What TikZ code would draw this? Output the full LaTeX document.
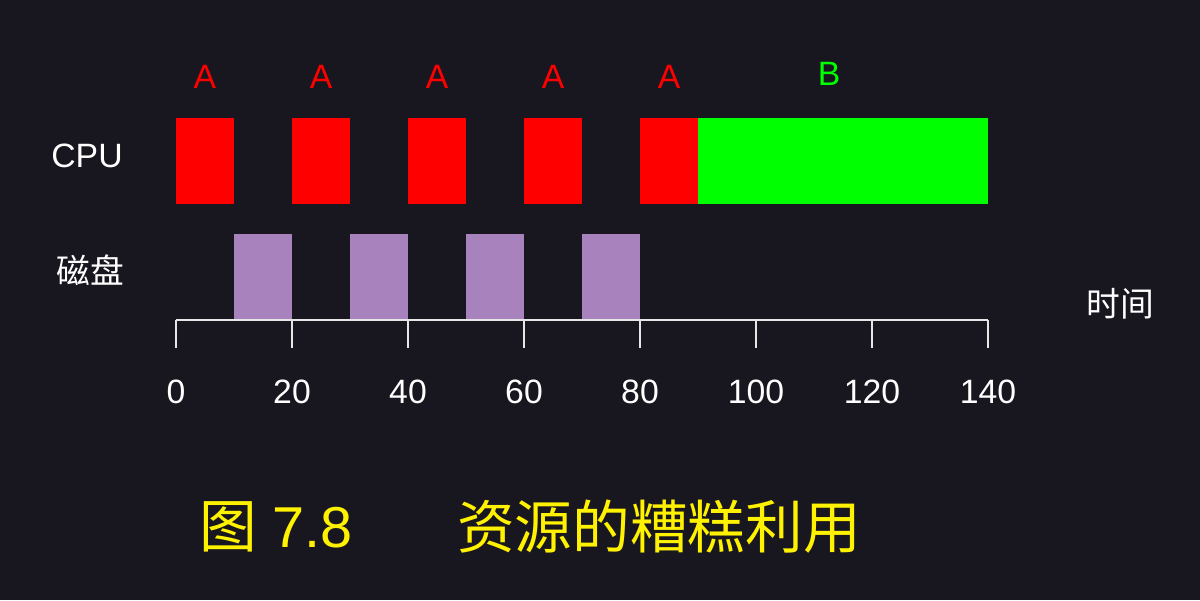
\documentclass[tikz,border=0pt]{standalone}
\usepackage{fontspec}
\setmainfont{Liberation Sans}
\newfontfamily\cjk{Noto Sans CJK SC}
\definecolor{bgcol}{HTML}{18161F}
\definecolor{diskcol}{HTML}{A882BC}
\definecolor{axiscol}{HTML}{E6E6E6}
\tikzset{
  lbl/.style={text=white,font=\fontsize{24}{28}\selectfont},
  cpuA/.style={fill=red},
  cpuB/.style={fill=green},
  disk/.style={fill=diskcol}
}
\begin{document}
\begin{tikzpicture}[x=0.025cm,y=-0.025cm]
	  \fill[bgcol] (0,0) rectangle (1200,600);
	  \useasboundingbox (0,0) rectangle (1200,600);
	  % cpu
	  \foreach \t in {0,20,40,60,80}{
	    \fill[cpuA] (176+5.8*\t,118) rectangle (176+5.8*\t+58,204);
	    \node[text=red,font=\fontsize{24}{28}\selectfont] (a\t) at (176+5.8*\t+29,77) {A};
	  }
	  \fill[cpuB] (698,118) rectangle (988,204);
	  \node[text=green,font=\fontsize{24}{28}\selectfont] (b) at (829,74) {B};
	  % disk
	  \foreach \t in {10,30,50,70}
	    \fill[disk] (176+5.8*\t,234) rectangle (176+5.8*\t+58,320);
	  \node[lbl] (cpu) at (87,156) {CPU};
	  \node[lbl] (pan) at (90,270) {\cjk 磁盘};
	  \node[lbl] (shi) at (1120,304) {\cjk 时间};
	  % axis
	  \draw[axiscol,line width=2pt] (176,320) -- (988,320);
	  \foreach \t in {0,20,...,140}{
	    \draw[axiscol,line width=2pt] (176+5.8*\t,320) -- (176+5.8*\t,348);
	    \node[lbl] (t\t) at (176+5.8*\t,392) {\t};
	  }
	  % caption
	  \node[text=yellow,font=\fontsize{41}{48}\selectfont] (fig) at (276,527) {{\cjk 图} 7.8};
	  \node[text=yellow,font=\cjk\fontsize{41}{48}\selectfont] (cap) at (659,527) {资源的糟糕利用};
	\end{tikzpicture}
\end{document}
